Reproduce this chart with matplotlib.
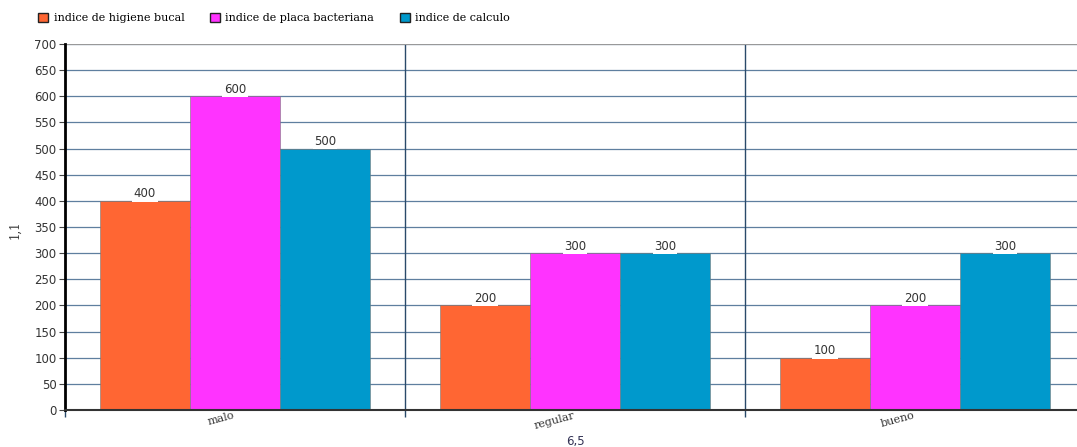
import matplotlib.pyplot as plt
import numpy as np

categorias = ['malo', 'regular', 'bueno']
series = ['indice de higiene bucal', 'indice de placa bacteriana', 'indice de calculo']
higiene = [400, 200, 100]
placa = [600, 300, 200]
calculo = [500, 300, 300]
colores = ['#FF6633', '#FF33FF', '#0099CC']

fig = plt.figure(figsize=(10.77, 4.47), dpi=100)
ax = fig.add_axes([65 / 1077, 1 - 410 / 447, 1020 / 1077, 366 / 447])

x = np.arange(len(categorias)) + 0.5
ancho = 90 / 340
valores = [higiene, placa, calculo]
for i, (vals, nombre, col) in enumerate(zip(valores, series, colores)):
    pos = x + (i - 1) * ancho
    ax.bar(pos, vals, width=ancho, color=col, edgecolor='#777777', linewidth=0.4,
           label=nombre, zorder=2)
    for xb, v in zip(pos, vals):
        ax.text(xb, v + 1, str(v), ha='center', va='bottom', fontsize=8.5,
                color='#333333', zorder=4,
                bbox=dict(boxstyle='square,pad=0.12', fc='white', ec='none'))

ax.set_xlim(0, 3)
ax.set_ylim(0, 700)
ax.set_yticks(np.arange(0, 701, 50))
ax.tick_params(axis='y', labelsize=8.5, length=4, color='#444444', pad=2,
               labelcolor='#333333')
ax.yaxis.grid(True, color='#5f7f9f', linewidth=0.9, zorder=0)
ax.set_axisbelow(True)

# separadores entre categorias
ax.set_xticks([0, 1, 2, 3])
ax.set_xticklabels([])
ax.tick_params(axis='x', length=5, color='#2a4a6a', width=1)
for s in [1, 2]:
    ax.axvline(s, color='#2a4a6a', linewidth=1, zorder=1)

for xc, c in zip(x, categorias):
    ax.text(xc - 0.005, -1, c, rotation=15, ha='right', va='top', rotation_mode='anchor',
            fontsize=8, family='serif', color='#333333')

for sp in ['top', 'right']:
    ax.spines[sp].set_visible(False)
ax.axhline(700, color='#999999', linewidth=1.5, zorder=1)
ax.spines['left'].set_linewidth(2)
ax.spines['left'].set_color('black')
ax.spines['bottom'].set_linewidth(1.5)
ax.spines['bottom'].set_color('#333333')

fig.text(15 / 1077, 1 - 230 / 447, '1,1', rotation=90, ha='center', va='center',
         fontsize=8.5, family='serif', color='#333333')
fig.text(575 / 1077, 1 - 441 / 447, '6,5', ha='center', va='center',
         fontsize=8.5, color='#333355')

leg = fig.legend(loc='upper left', bbox_to_anchor=(28 / 1077, 1 - 3 / 447), ncol=3,
                 frameon=False, prop={'family': 'serif', 'size': 8},
                 handlelength=0.9, handleheight=0.9, columnspacing=2.3,
                 handletextpad=0.5)
for h in leg.legend_handles:
    h.set_edgecolor('#222222')
    h.set_linewidth(1)

fig.savefig('out.png', dpi=100)
